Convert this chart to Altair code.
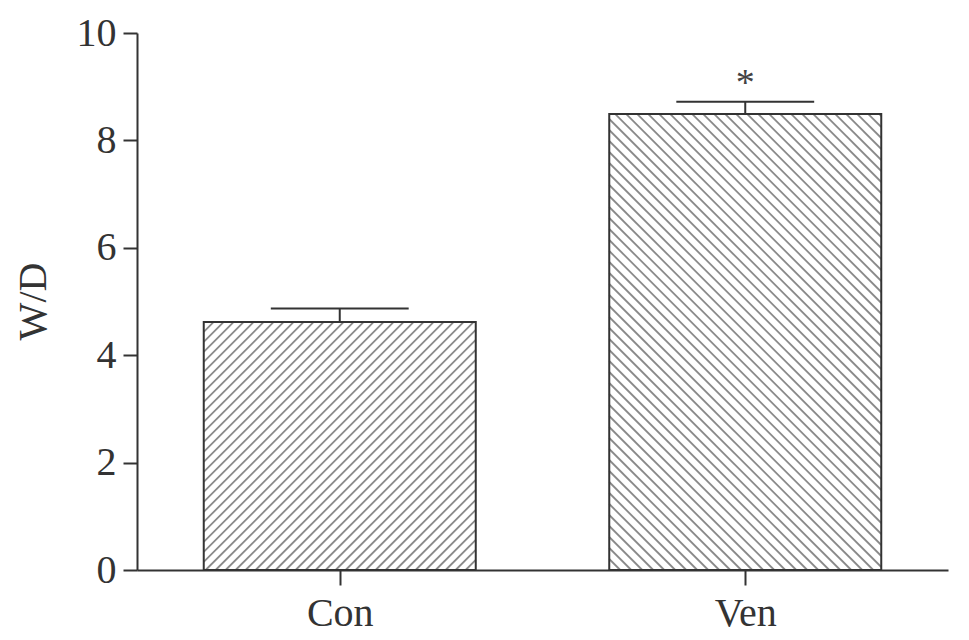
import altair as alt
import pandas as pd

# ---- data ----
groups = ["Con", "Ven"]
means = [4.62, 8.49]
errors = [0.25, 0.23]
hatch_dirs = ["/", "\\"]
significance = ["", "*"]

# ---- layout ----
W, H = 811, 537
X_DOMAIN = [0, 2]
Y_DOMAIN = [0, 10]
centers = [0.5, 1.5]
half_bar = 0.3354
half_cap = 0.17
px_x = W / (X_DOMAIN[1] - X_DOMAIN[0])
px_y = H / (Y_DOMAIN[1] - Y_DOMAIN[0])
spacings = [10.0, 11.0]

bars = pd.DataFrame({
    "group": groups,
    "x0": [c - half_bar for c in centers],
    "x1": [c + half_bar for c in centers],
    "xc": centers,
    "cap0": [c - half_cap for c in centers],
    "cap1": [c + half_cap for c in centers],
    "mean": means,
    "top": [m + e for m, e in zip(means, errors)],
    "sig": significance,
})

# hatch segments computed from each bar's extent (clipped to the bar)
rows = []
for i, g in enumerate(groups):
    bw = (bars.x1[i] - bars.x0[i]) * px_x
    bh = means[i] * px_y
    s = spacings[i]
    if hatch_dirs[i] == "/":
        k = -bh
        while k < bw:
            a = max(0.0, k)
            b = min(bw, bh + k)
            if b > a:
                rows.append((g, a, a - k, b, b - k))
            k += s
    else:
        k = 0.0
        while k < bw + bh:
            a = max(0.0, k - bh)
            b = min(bw, k)
            if b > a:
                rows.append((g, a, k - a, b, k - b))
            k += s
hatch = pd.DataFrame(rows, columns=["group", "px0", "py0", "px1", "py1"])
hatch["hx0"] = [bars.x0[groups.index(g)] + p / px_x for g, p in zip(hatch.group, hatch.px0)]
hatch["hx1"] = [bars.x0[groups.index(g)] + p / px_x for g, p in zip(hatch.group, hatch.px1)]
hatch["hy0"] = hatch.py0 / px_y
hatch["hy1"] = hatch.py1 / px_y

FONT = "Liberation Serif"
DARK = "#333333"

label_expr = "datum.value < 1 ? 'Con' : 'Ven'"

x_scale = alt.Scale(domain=X_DOMAIN, nice=False, zero=False)
y_scale = alt.Scale(domain=Y_DOMAIN, nice=False)

x_axis = alt.Axis(values=centers, labelExpr=label_expr, title=None, grid=False,
                  tickSize=15, labelPadding=8, labelFontSize=40, labelFont=FONT,
                  labelColor=DARK, domainColor=DARK, tickColor=DARK,
                  domainWidth=2, tickWidth=2)
y_axis = alt.Axis(values=[0, 2, 4, 6, 8, 10], title="W/D", grid=False,
                  tickSize=14, labelPadding=7, labelFontSize=40, labelFont=FONT,
                  labelColor=DARK, domainColor=DARK, tickColor=DARK,
                  domainWidth=2, tickWidth=2,
                  titleFont=FONT, titleFontSize=40, titleFontWeight="normal",
                  titleColor=DARK, titleAngle=270, titleBaseline="middle",
                  titleAlign="center", titleX=-104, titleY=268)

hatch_layer = alt.Chart(hatch).mark_rule(color="#8a8a8a", strokeWidth=1.8).encode(
    x=alt.X("hx0:Q", scale=x_scale, axis=x_axis),
    x2="hx1:Q",
    y=alt.Y("hy0:Q", scale=y_scale, axis=y_axis),
    y2="hy1:Q",
)

bar_layer = alt.Chart(bars).mark_rect(fill=None, stroke=DARK, strokeWidth=2).encode(
    x=alt.X("x0:Q", scale=x_scale),
    x2="x1:Q",
    y=alt.Y("mean:Q", scale=y_scale),
    y2=alt.datum(0),
)

err_v = alt.Chart(bars).mark_rule(color=DARK, strokeWidth=2).encode(
    x=alt.X("xc:Q", scale=x_scale),
    y=alt.Y("mean:Q", scale=y_scale),
    y2="top:Q",
)
err_cap = alt.Chart(bars).mark_rule(color=DARK, strokeWidth=2.2).encode(
    x=alt.X("cap0:Q", scale=x_scale),
    x2="cap1:Q",
    y=alt.Y("top:Q", scale=y_scale),
)
sig_layer = alt.Chart(bars).mark_text(font=FONT, fontSize=38, color="#444444",
                                      baseline="alphabetic", dy=-7).encode(
    x=alt.X("xc:Q", scale=x_scale),
    y=alt.Y("top:Q", scale=y_scale),
    text="sig:N",
)

chart = alt.layer(hatch_layer, bar_layer, err_v, err_cap, sig_layer).properties(
    width=W, height=H,
    background="white",
    autosize=alt.AutoSizeParams(type="none"),
    padding={"left": 129, "top": 25, "right": 5, "bottom": 70},
).configure_view(strokeWidth=0, strokeOpacity=0)

chart.save("out.html", embed_options={"renderer": "svg", "actions": False})
